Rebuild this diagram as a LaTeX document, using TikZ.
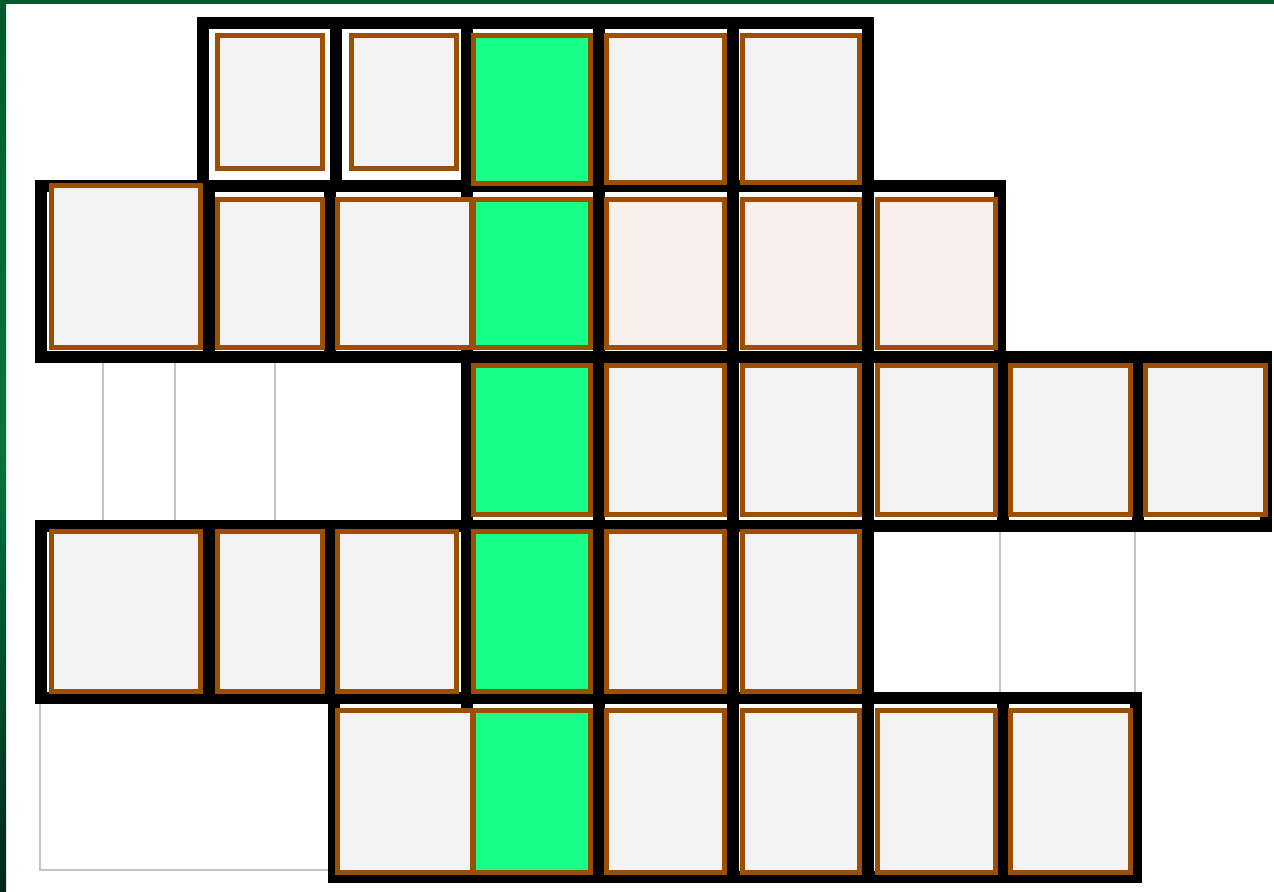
\documentclass[tikz,border=0pt]{standalone}
\definecolor{brn}{HTML}{9C4F00}
\definecolor{cellgray}{HTML}{F3F3F3}
\definecolor{cellpink}{HTML}{F9F0ED}
\definecolor{cellgreen}{HTML}{17FF87}
\definecolor{ghost}{HTML}{C4C4C4}
\definecolor{frameA}{HTML}{005A2E}
\definecolor{frameB}{HTML}{00763E}
\definecolor{frameC}{HTML}{00261A}
\begin{document}
\begin{tikzpicture}[x={(0.02cm,0)},y={(0,-0.02cm)},
  blk/.style={draw=black,line width=6.8pt,fill=white,line join=miter},
  box/.style={draw=brn,line width=2.8pt,fill=cellgray},
  pinkbox/.style={box,fill=cellpink},
  greenbox/.style={box,fill=cellgreen},
  ghostline/.style={draw=ghost,line width=1.5pt}]
\useasboundingbox (0,0) rectangle (1274,892);
% frame
\fill[white] (0,0) rectangle (1274,892);
\fill[frameA] (0,0) rectangle (1274,4);
\shade[top color=frameA,bottom color=frameC,middle color=frameB] (0,0) rectangle (6,892);
% ghost lines
\foreach \x in {103,175,275} \draw[ghostline] (\x,357) -- (\x,526);
\foreach \x in {1000,1135} \draw[ghostline] (\x,526) -- (\x,698);
\draw[ghostline] (40,698) rectangle (334,870);
% black cells
\foreach \a/\b in {203/336,336/467,467/599,599/733,733/868}
  \draw[blk] (\a,23) rectangle (\b,186);
\foreach \a/\b in {41/209,209/330,330/467,467/599,599/733,733/868,868/1000}
  \draw[blk] (\a,186) rectangle (\b,357);
\foreach \a/\b in {467/599,599/733,733/868,868/1003,1003/1138,1138/1266}
  \draw[blk] (\a,357) rectangle (\b,526);
\foreach \a/\b in {41/209,209/330,330/467,467/599,599/733,733/868}
  \draw[blk] (\a,526) rectangle (\b,698);
\foreach \a/\b in {334/467,467/599,599/733,733/868,868/1003,1003/1136}
  \draw[blk] (\a,698) rectangle (\b,877);
% row 1 boxes
\draw[box] (217.5,35.5) rectangle (322.5,168.5);
\draw[box] (351.5,35.5) rectangle (456.5,168.5);
\draw[greenbox] (473.5,35.5) rectangle (590.5,183.5);
\draw[box] (606.5,35.5) rectangle (724.5,182.5);
\draw[box] (742.5,35.5) rectangle (859.5,182.5);
% row 2 boxes
\draw[box] (51.5,185.5) rectangle (200.5,347.5);
\draw[box] (217.5,199.5) rectangle (322.5,347.5);
\draw[box] (337.5,199.5) rectangle (471,347.5);
\draw[greenbox] (473.5,199.5) rectangle (590.5,347.5);
\draw[pinkbox] (606.5,199.5) rectangle (724.5,347.5);
\draw[pinkbox] (742.5,199.5) rectangle (859.5,347.5);
\draw[pinkbox] (877.5,199.5) rectangle (995.5,347.5);
% row 3 boxes
\draw[greenbox] (473.5,365.5) rectangle (590.5,514.5);
\foreach \a/\b in {606.5/724.5,742.5/859.5,877.5/995.5,1010.5/1130.5,1145.5/1265.5}
  \draw[box] (\a,365.5) rectangle (\b,514.5);
% row 4 boxes
\draw[box] (51.5,531.5) rectangle (200.5,691.5);
\draw[box] (217.5,531.5) rectangle (322.5,691.5);
\draw[box] (337.5,531.5) rectangle (456.5,691.5);
\draw[greenbox] (473.5,531.5) rectangle (590.5,691.5);
\draw[box] (606.5,531.5) rectangle (724.5,691.5);
\draw[box] (742.5,531.5) rectangle (859.5,691.5);
% row 5 boxes
\draw[box] (337.5,710.5) rectangle (472,872.5);
\draw[greenbox] (474,710.5) rectangle (590.5,872.5);
\foreach \a/\b in {606.5/724.5,742.5/859.5,877.5/995.5,1010.5/1130.5}
  \draw[box] (\a,710.5) rectangle (\b,872.5);
\end{tikzpicture}
\end{document}
